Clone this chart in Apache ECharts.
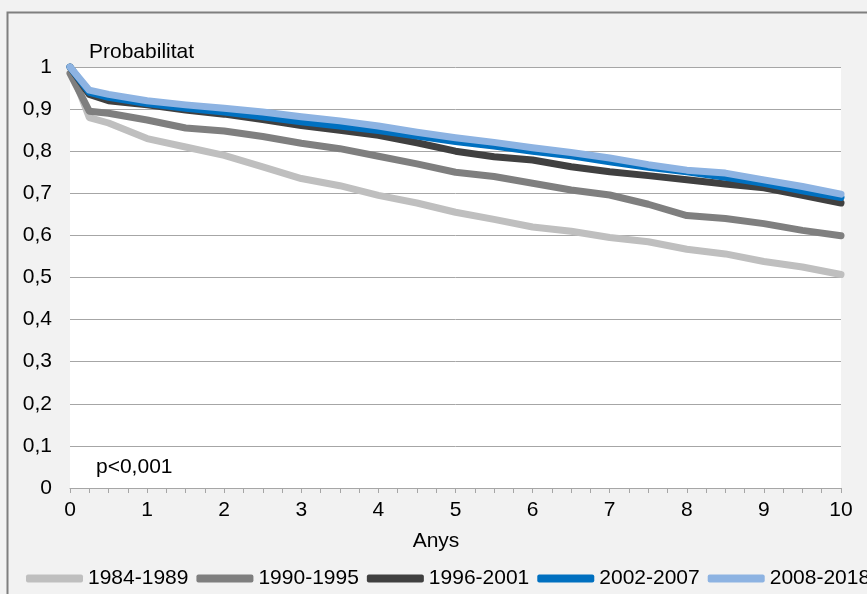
<!DOCTYPE html>
<html><head><meta charset="utf-8">
<script src="https://cdn.jsdelivr.net/npm/echarts@6/dist/echarts.min.js"></script>
<style>html,body{margin:0;padding:0;background:#f2f2f2}#c{width:867px;height:594px}</style>
</head><body><div id="c"></div>
<script>
const years = [0,0.25,0.5,1,1.5,2,2.5,3,3.5,4,4.5,5,5.5,6,6.5,7,7.5,8,8.5,9,9.5,10];
const s1984 = [1.0,0.88,0.867,0.83,0.81,0.79,0.763,0.735,0.718,0.695,0.677,0.655,0.638,0.62,0.61,0.595,0.585,0.567,0.556,0.538,0.525,0.507];
const s1990 = [0.985,0.895,0.89,0.874,0.855,0.848,0.835,0.819,0.806,0.788,0.77,0.75,0.74,0.724,0.708,0.696,0.674,0.647,0.64,0.628,0.612,0.599];
const s1996 = [1.0,0.935,0.92,0.91,0.898,0.888,0.875,0.861,0.85,0.838,0.82,0.8,0.787,0.779,0.763,0.751,0.742,0.732,0.722,0.713,0.695,0.677];
const s2002 = [1.0,0.94,0.928,0.913,0.902,0.893,0.882,0.87,0.86,0.849,0.836,0.823,0.812,0.8,0.789,0.775,0.762,0.751,0.738,0.724,0.706,0.69];
const s2008 = [1.0,0.945,0.935,0.92,0.91,0.902,0.893,0.882,0.872,0.86,0.845,0.832,0.821,0.808,0.797,0.784,0.768,0.755,0.748,0.732,0.716,0.698];
const seriesNames = ['1984-1989','1990-1995','1996-2001','2002-2007','2008-2018'];
const seriesData = [s1984,s1990,s1996,s2002,s2008];
const colors = ['#bfbfbf','#7f7f7f','#404040','#0070c0','#8db3e2'];
const yTicks = [0,0.1,0.2,0.3,0.4,0.5,0.6,0.7,0.8,0.9,1];

const FONT = '"Liberation Sans", Arial, sans-serif';
const chart = echarts.init(document.getElementById('c'), null, {renderer:'canvas'});
chart.setOption({
  backgroundColor:'#f2f2f2',
  animation:false,
  textStyle:{fontFamily:FONT},
  color: colors,
  grid:{left:70, right:26, top:67, bottom:106, show:true, backgroundColor:'#ffffff', borderWidth:0, containLabel:false},
  legend:{
    left:21, top:563, width:1000, itemWidth:57, itemHeight:8, itemGap:8, icon:'roundRect',
    textStyle:{fontSize:21, color:'#000', fontFamily:FONT},
    data: seriesNames
  },
  xAxis:{
    type:'value', min:0, max:10, interval:1,
    axisLine:{show:true, lineStyle:{color:'#a6a6a6', width:1}},
    axisTick:{show:true, length:5, lineStyle:{color:'#a6a6a6'}},
    minorTick:{show:true, splitNumber:4, length:5, lineStyle:{color:'#a6a6a6'}},
    splitLine:{show:false},
    axisLabel:{fontSize:21, color:'#000', margin:12, fontFamily:FONT}
  },
  yAxis:{
    type:'value', min:0, max:1, interval:0.1,
    axisLine:{show:false}, axisTick:{show:false},
    splitLine:{show:true, lineStyle:{color:'#a6a6a6', width:1}},
    axisLabel:{fontSize:21, color:'#000', margin:18, fontFamily:FONT,
      formatter:function(v){ const r=Math.round(v*10)/10; return (r===0||r===1)?String(r):r.toFixed(1).replace('.',','); }}
  },
  graphic:[
    {type:'rect', left:5, top:10, shape:{width:900, height:700}, style:{fill:'none', stroke:'#7f7f7f', lineWidth:2}, z:-10, silent:true},
    {type:'text', left:89, top:42, style:{text:'Probabilitat', font:'21px '+FONT, fill:'#000'}},
    {type:'text', left:96, top:457, style:{text:'p<0,001', font:'21px '+FONT, fill:'#000'}},
    {type:'text', x:436, y:541, style:{text:'Anys', font:'21px '+FONT, fill:'#000', align:'center', verticalAlign:'middle'}}
  ],
  series: seriesNames.map((n,i)=>({
    name:n, type:'line', showSymbol:false, symbol:'none',
    data: years.map((t,j)=>[t, seriesData[i][j]]),
    lineStyle:{width:7, color:colors[i], cap:'round', join:'round'},
    itemStyle:{color:colors[i]}
  }))
});
</script></body></html>
